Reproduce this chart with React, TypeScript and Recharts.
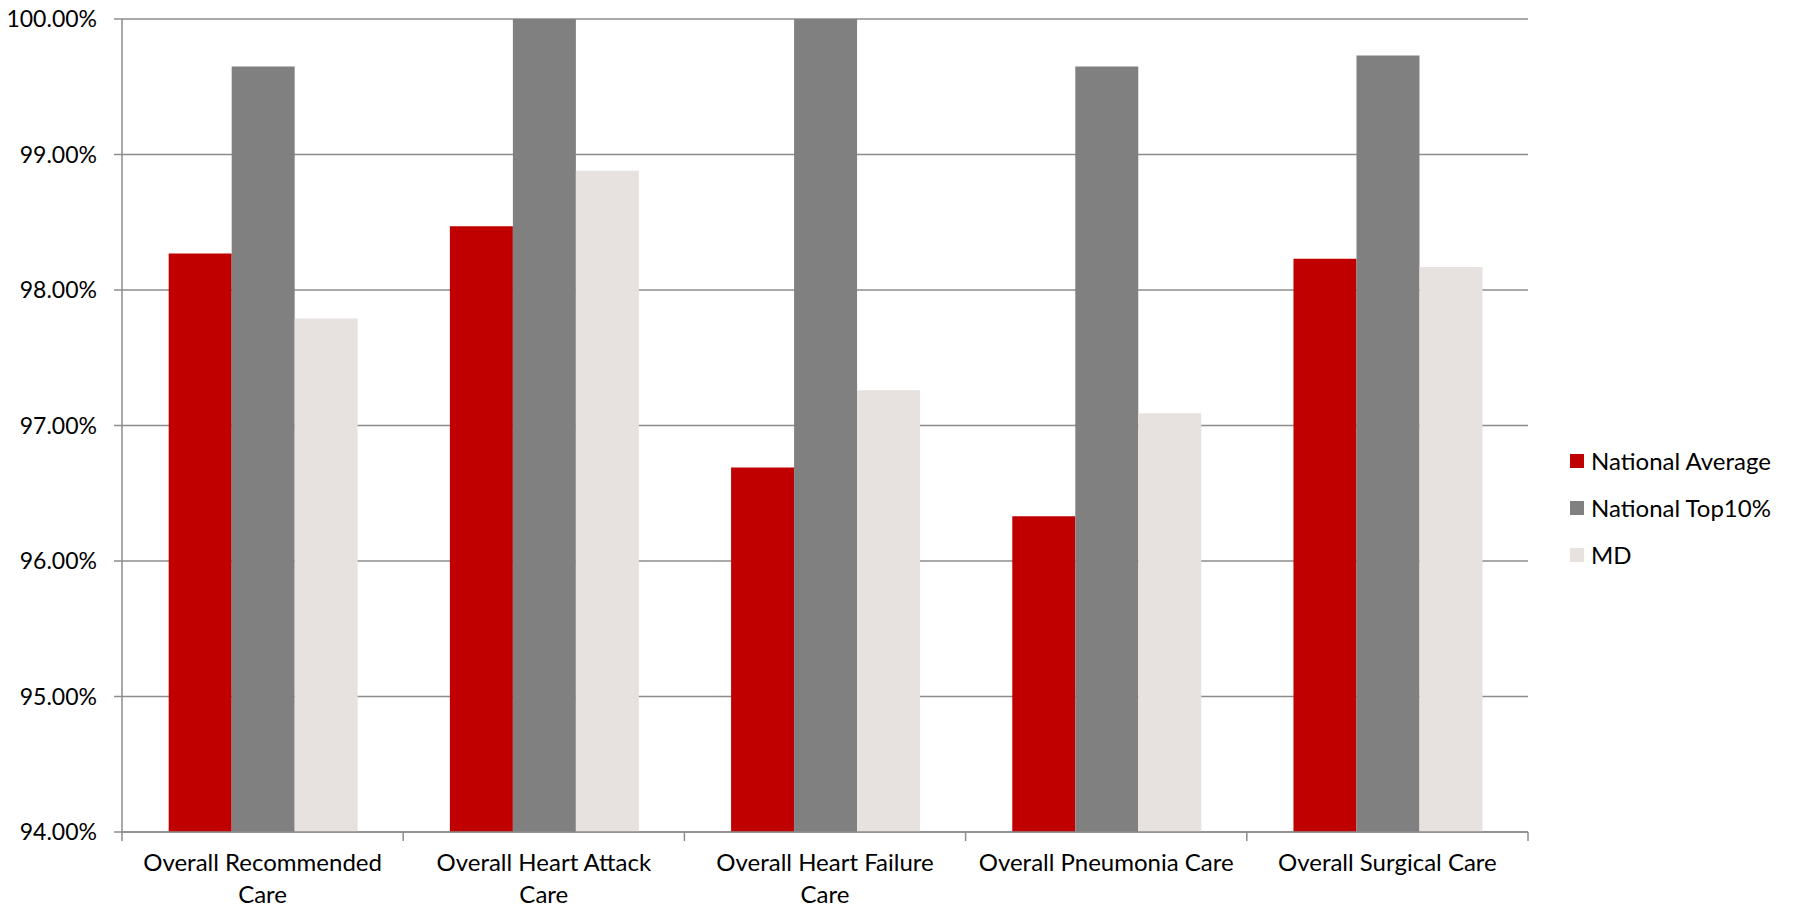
import { BarChart, Bar, XAxis, YAxis, CartesianGrid } from 'recharts';

const categories = [
  'Overall Recommended Care',
  'Overall Heart Attack Care',
  'Overall Heart Failure Care',
  'Overall Pneumonia Care',
  'Overall Surgical Care',
];

// how each category label wraps under the axis
const categoryLines = [
  ['Overall Recommended', 'Care'],
  ['Overall Heart Attack', 'Care'],
  ['Overall Heart Failure', 'Care'],
  ['Overall Pneumonia Care'],
  ['Overall Surgical Care'],
];

const nationalAverage = [98.27, 98.47, 96.69, 96.33, 98.23];
const nationalTop10 = [99.65, 100.0, 100.0, 99.65, 99.73];
const md = [97.79, 98.88, 97.26, 97.09, 98.17];

const yTicks = [94, 95, 96, 97, 98, 99, 100];

const series = [
  { key: 'avg', name: 'National Average', color: '#C00000' },
  { key: 'top', name: 'National Top10%', color: '#808080' },
  { key: 'md', name: 'MD', color: '#E7E2DF' },
];

const data = categories.map((c, i) => ({
  name: c,
  avg: nationalAverage[i],
  top: nationalTop10[i],
  md: md[i],
}));

const W = 1799;
const H = 908;
const MARGIN = { top: 19, right: 271, left: 0, bottom: 0 };
const Y_W = 122;
const X_H = 76;
const PLOT_W = W - MARGIN.right - Y_W;
const FONT = 'Lato, "Open Sans", sans-serif';
const AXIS = '#8c8c8c';

const CategoryTick = (props: any) => {
  const { x, y, index } = props;
  const band = PLOT_W / categories.length;
  const lines = categoryLines[index] || [];
  return (
    <g>
      <line x1={x - band / 2} x2={x - band / 2} y1={y} y2={y + 9} stroke={AXIS} strokeWidth={1.5} />
      {index === categories.length - 1 && (
        <line x1={x + band / 2} x2={x + band / 2} y1={y} y2={y + 9} stroke={AXIS} strokeWidth={1.5} />
      )}
      {lines.map((l, i) => (
        <text key={i} x={x} y={y + 39 + i * 32} textAnchor="middle" fontSize={24} fontFamily={FONT} fill="#000">
          {l}
        </text>
      ))}
    </g>
  );
};

export default function App() {
  return (
    <div style={{ position: 'absolute', left: 0, top: 0, width: W, height: H, background: '#fff' }}>
      <BarChart
        width={W}
        height={H}
        data={data}
        margin={MARGIN}
        barCategoryGap="16.6%"
        barGap={0}
      >
        <CartesianGrid vertical={false} stroke={AXIS} strokeWidth={1.5} />
        <XAxis
          dataKey="name"
          height={X_H}
          interval={0}
          tickSize={0}
          tickMargin={0}
          tickLine={false}
          axisLine={{ stroke: AXIS, strokeWidth: 1.5 }}
          tick={<CategoryTick />}
        />
        <YAxis
          width={Y_W}
          domain={[94, 100]}
          ticks={yTicks}
          allowDataOverflow
          tickSize={8}
          tickMargin={17}
          axisLine={{ stroke: AXIS, strokeWidth: 1.5 }}
          tickLine={{ stroke: AXIS, strokeWidth: 1.5 }}
          tick={{ fill: '#000', fontSize: 23, fontFamily: FONT }}
          tickFormatter={(v: number) => `${v.toFixed(2)}%`}
        />
        {series.map((s) => (
          <Bar key={s.key} dataKey={s.key} name={s.name} fill={s.color} isAnimationActive={false} />
        ))}
      </BarChart>
      <div style={{ position: 'absolute', left: 1570, top: 437, fontFamily: FONT, fontSize: 24, color: '#000' }}>
        {series.map((s) => (
          <div key={s.key} style={{ display: 'flex', alignItems: 'center', height: 47 }}>
            <span style={{ width: 14, height: 14, background: s.color, marginRight: 7, display: 'inline-block' }} />
            <span>{s.name}</span>
          </div>
        ))}
      </div>
    </div>
  );
}
